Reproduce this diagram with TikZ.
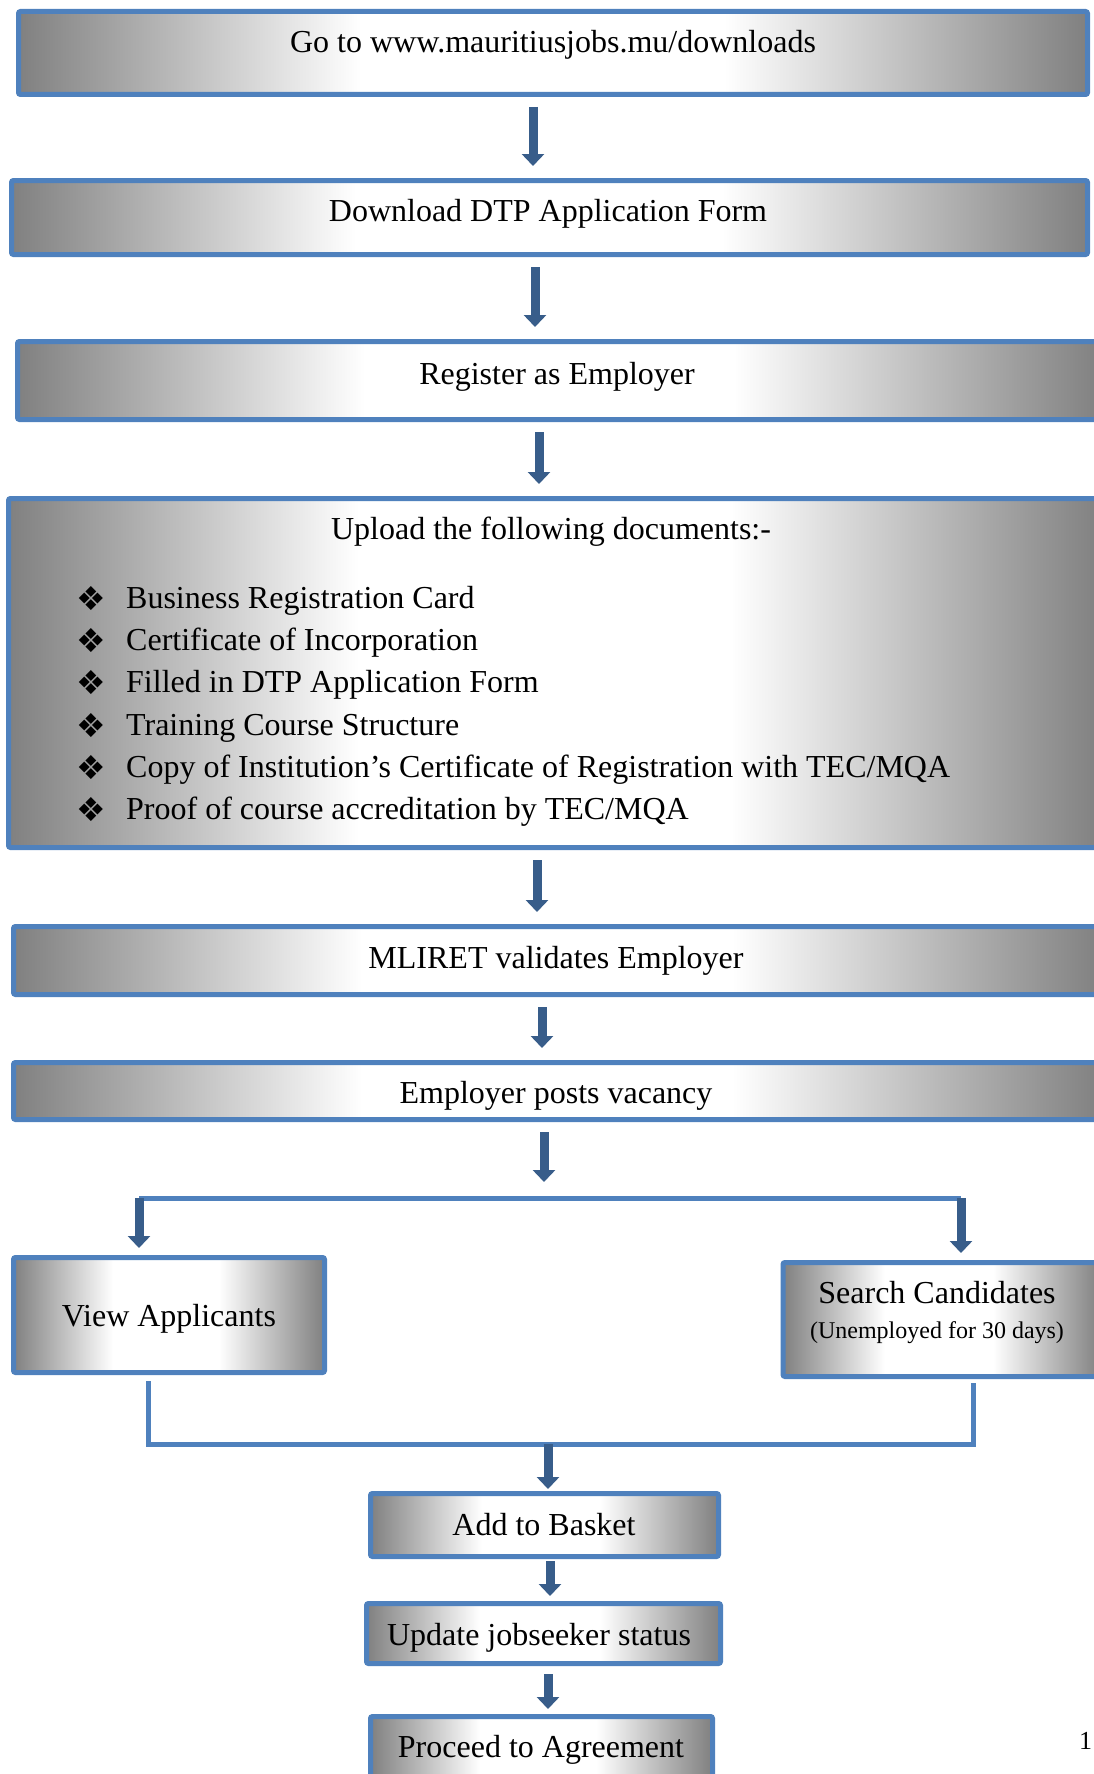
\documentclass[tikz,border=0pt]{standalone}
\usepackage{fontspec}
\setmainfont{Liberation Serif}
\newfontfamily\symfont{DejaVu Sans}
\usetikzlibrary{shapes,arrows.meta}

\definecolor{boxblue}{RGB}{79,129,189}
\definecolor{arrowblue}{RGB}{56,93,138}
\definecolor{shadegray}{RGB}{128,128,128}
\pgfdeclarehorizontalshading{barshade}{100bp}{color(0bp)=(shadegray); color(25bp)=(shadegray); color(41bp)=(white); color(58bp)=(white); color(75bp)=(shadegray); color(100bp)=(shadegray)}

\begin{document}
\begin{tikzpicture}[x=1pt, y=-1pt,
    bar/.style={draw=boxblue, line width=5pt, rounded corners=2pt, shade, shading=barshade, inner sep=0pt},
    lbl/.style={font=\fontsize{32}{38}\selectfont, inner sep=0pt, text height=22pt, text depth=7pt, yshift=-3.5pt},
    flow/.style={draw=arrowblue, line width=9pt, -{Triangle[width=22pt,length=12pt]}, shorten <=10pt, shorten >=12pt},
    link/.style={draw=boxblue, line width=5pt}]
\useasboundingbox (0,0) rectangle (1093,1774);

% boxes
\node[bar, minimum width=1069pt, minimum height=83pt] (go) at (553,53) {};
\node[bar, minimum width=1076pt, minimum height=74pt] (dl) at (549.5,217.5) {};
\node[bar, minimum width=1085pt, minimum height=78pt] (reg) at (560,380.5) {};
\node[bar, minimum width=1094pt, minimum height=349pt] (upl) at (555.5,673) {};
\node[bar, minimum width=1089pt, minimum height=68pt] (val) at (558,960.5) {};
\node[bar, minimum width=1089pt, minimum height=57pt] (post) at (558,1091) {};
\node[bar, minimum width=311pt, minimum height=115pt] (view) at (169,1315) {};
\node[bar, minimum width=318pt, minimum height=114pt] (search) at (942,1319.5) {};
\node[bar, minimum width=348pt, minimum height=63pt] (add) at (544.5,1525) {};
\node[bar, minimum width=354pt, minimum height=60pt] (upd) at (543.5,1633.5) {};
\node[bar, minimum width=342pt, minimum height=81pt] (agr) at (541.5,1757) {};

% texts
\node[lbl] (gotxt) at (553,42) {Go to www.mauritiusjobs.mu/downloads};
\node[lbl] (dltxt) at (548,210) {Download DTP Application Form};
\node[lbl] (regtxt) at (557,373) {Register as Employer};
\node[lbl] (upltxt) at (551,528) {Upload the following documents:-};
\foreach \doc [count=\i] in {Business Registration Card, Certificate of Incorporation, Filled in DTP Application Form, Training Course Structure, Copy of Institution’s Certificate of Registration with TEC/MQA, Proof of course accreditation by TEC/MQA} {
    \node[inner sep=0pt, font=\symfont\fontsize{33}{36}\selectfont] (bul\i) at (91,556+42.3*\i) {❖};
    \node[lbl, anchor=west] (doc\i) at (126,555+42.3*\i) {\doc};
}
\node[lbl] (valtxt) at (556,957) {MLIRET validates Employer};
\node[lbl] (posttxt) at (556,1092) {Employer posts vacancy};
\node[lbl] (viewtxt) at (169,1315) {View Applicants};
\node[lbl] (searchtxt) at (937,1292) {Search Candidates};
\node[inner sep=0pt, font=\fontsize{24}{28}\selectfont] (searchsub) at (937,1333) {(Unemployed for 30 days)};
\node[lbl] (addtxt) at (544,1524) {Add to Basket};
\node[lbl] (updtxt) at (539,1634) {Update jobseeker status};
\node[lbl] (agrtxt) at (541,1746) {Proceed to Agreement};
\node[inner sep=0pt, anchor=west, font=\fontsize{26}{30}\selectfont] (pg) at (1079,1741) {1};

% main chain
\foreach \from/\to/\ax in {go/dl/533, dl/reg/535, reg/upl/539, upl/val/537, val/post/542} {
    \draw[flow] (\from.south -| \ax,0) -- (\to.north -| \ax,0);
}

% split to the two ways
\coordinate (split) at (544,1198);
\coordinate (splitL) at (139,1198);
\coordinate (splitR) at (961,1198);
\draw[flow, shorten >=16pt] (post.south -| split) -- (split);
\draw[link] (splitL) -- (splitR);
\draw[flow, shorten <=0pt, shorten >=7pt] (splitL) -- (view.north -| splitL);
\draw[flow, shorten <=0pt, shorten >=7pt] (splitR) -- (search.north -| splitR);

% join again
\coordinate (join) at (548,1444);
\coordinate (joinL) at (148,1444);
\coordinate (joinR) at (973,1444);
\draw[link, shorten <=6pt, shorten >=4pt] (view.south -| joinL) -- (joinL) -- (joinR) -- (search.south -| joinR);
\draw[flow, shorten <=0pt, shorten >=2pt] (join) -- (add.north -| join);
\draw[flow, shorten <=2pt, shorten >=5pt] (add.south -| 550,0) -- (upd.north -| 550,0);
\draw[flow, shorten <=8pt, shorten >=5pt] (upd.south -| 548,0) -- (agr.north -| 548,0);
\end{tikzpicture}
\end{document}
